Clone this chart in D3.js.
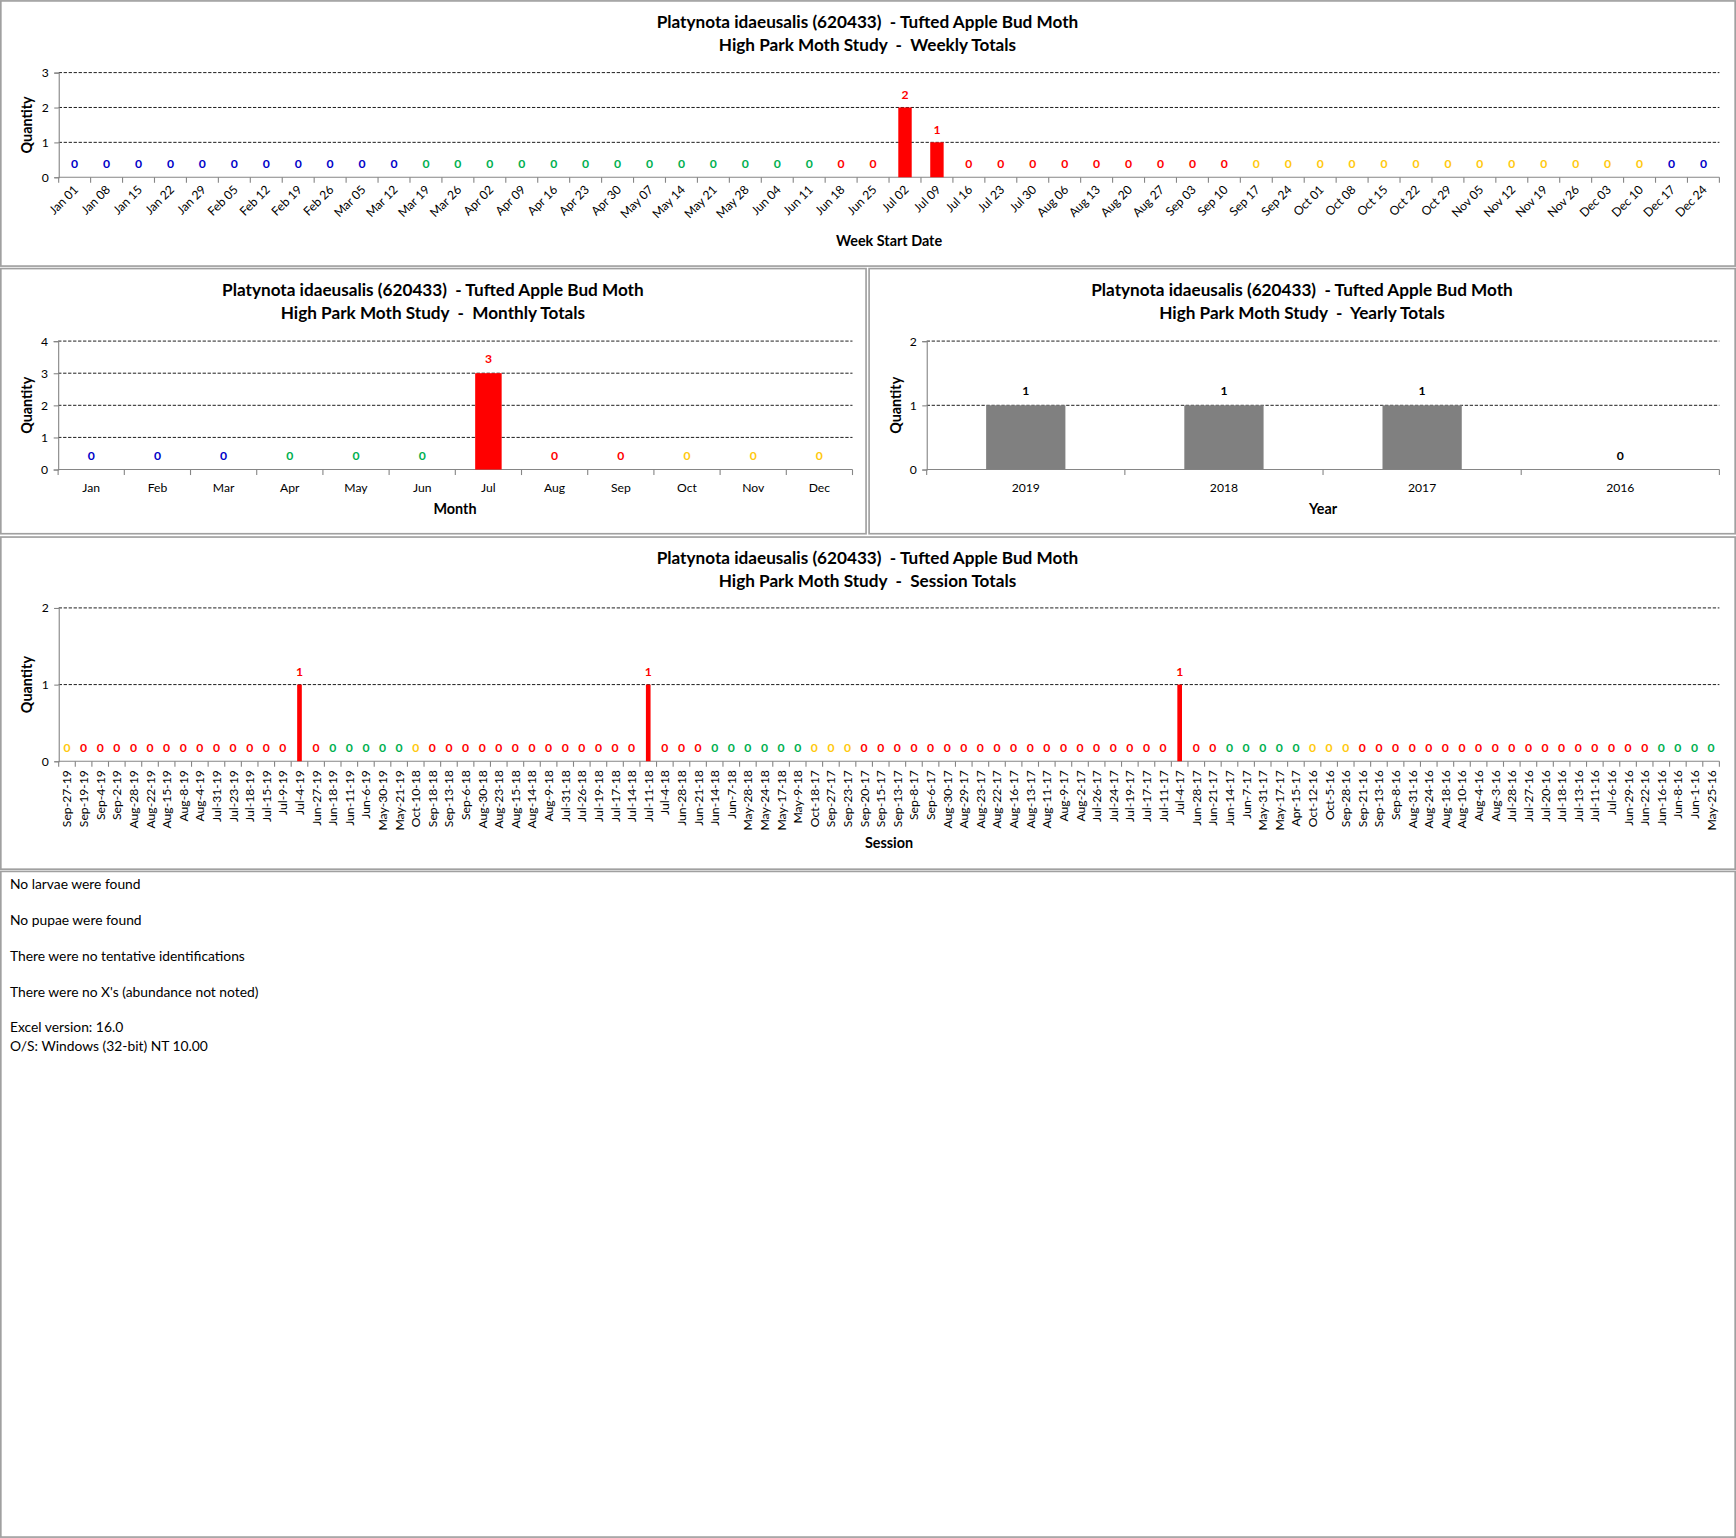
<!DOCTYPE html>
<html>
<head>
<meta charset="utf-8">
<script src="https://cdn.jsdelivr.net/npm/d3@7"></script>
<style>
  body { margin: 0; background: #fff; }
  text { font-family: Lato, "Open Sans", sans-serif; white-space: pre; }
</style>
</head>
<body>
<div id="page"></div>
<script>
// Data
const titleLine1 = "Platynota idaeusalis (620433)  - Tufted Apple Bud Moth";

const weekLabels = ["Jan 01","Jan 08","Jan 15","Jan 22","Jan 29","Feb 05","Feb 12","Feb 19","Feb 26",
  "Mar 05","Mar 12","Mar 19","Mar 26","Apr 02","Apr 09","Apr 16","Apr 23","Apr 30","May 07","May 14",
  "May 21","May 28","Jun 04","Jun 11","Jun 18","Jun 25","Jul 02","Jul 09","Jul 16","Jul 23","Jul 30",
  "Aug 06","Aug 13","Aug 20","Aug 27","Sep 03","Sep 10","Sep 17","Sep 24","Oct 01","Oct 08","Oct 15",
  "Oct 22","Oct 29","Nov 05","Nov 12","Nov 19","Nov 26","Dec 03","Dec 10","Dec 17","Dec 24"];
const weekValues = [0,0,0,0,0,0,0,0,0,0,0,0,0,0,0,0,0,0,0,0,0,0,0,0,0,0,2,1,0,0,0,0,0,0,0,0,0,0,0,0,0,0,0,0,0,0,0,0,0,0,0,0];
const weekSeasons = "BBBBBBBBBBBGGGGGGGGGGGGGRRRRRRRRRRRRRYYYYYYYYYYYYYBB";

const monthLabels = ["Jan","Feb","Mar","Apr","May","Jun","Jul","Aug","Sep","Oct","Nov","Dec"];
const monthValues = [0,0,0,0,0,0,3,0,0,0,0,0];
const monthSeasons = "BBBGGGRRRYYY";

const yearLabels = ["2019","2018","2017","2016"];
const yearValues = [1,1,1,0];

const sessionLabels = [
  "Sep-27-19","Sep-19-19","Sep-4-19","Sep-2-19","Aug-28-19","Aug-22-19","Aug-15-19","Aug-8-19","Aug-4-19",
  "Jul-31-19","Jul-23-19","Jul-18-19","Jul-15-19","Jul-9-19","Jul-4-19","Jun-27-19","Jun-18-19","Jun-11-19",
  "Jun-6-19","May-30-19","May-21-19",
  "Oct-10-18","Sep-18-18","Sep-13-18","Sep-6-18","Aug-30-18","Aug-23-18","Aug-15-18","Aug-14-18","Aug-9-18",
  "Jul-31-18","Jul-26-18","Jul-19-18","Jul-17-18","Jul-14-18","Jul-11-18","Jul-4-18","Jun-28-18","Jun-21-18",
  "Jun-14-18","Jun-7-18","May-28-18","May-24-18","May-17-18","May-9-18",
  "Oct-18-17","Sep-27-17","Sep-23-17","Sep-20-17","Sep-15-17","Sep-13-17","Sep-8-17","Sep-6-17","Aug-30-17",
  "Aug-29-17","Aug-23-17","Aug-22-17","Aug-16-17","Aug-13-17","Aug-11-17","Aug-9-17","Aug-2-17","Jul-26-17",
  "Jul-24-17","Jul-19-17","Jul-17-17","Jul-11-17","Jul-4-17","Jun-28-17","Jun-21-17","Jun-14-17","Jun-7-17",
  "May-31-17","May-17-17","Apr-15-17",
  "Oct-12-16","Oct-5-16","Sep-28-16","Sep-21-16","Sep-13-16","Sep-8-16","Aug-31-16","Aug-24-16","Aug-18-16",
  "Aug-10-16","Aug-4-16","Aug-3-16","Jul-28-16","Jul-27-16","Jul-20-16","Jul-18-16","Jul-13-16","Jul-11-16",
  "Jul-6-16","Jun-29-16","Jun-22-16","Jun-16-16","Jun-8-16","Jun-1-16","May-25-16"];
const sessionValues = [
  0,0,0,0,0,0,0,0,0,0,0,0,0,0,1,0,0,0,0,0,0,
  0,0,0,0,0,0,0,0,0,0,0,0,0,0,1,0,0,0,0,0,0,0,0,0,
  0,0,0,0,0,0,0,0,0,0,0,0,0,0,0,0,0,0,0,0,0,0,1,0,0,0,0,0,0,0,
  0,0,0,0,0,0,0,0,0,0,0,0,0,0,0,0,0,0,0,0,0,0,0,0,0];
const sessionSeasons =
  "YRRRRRRRRRRRRRRRGGGGG" +
  "YRRRRRRRRRRRRRRRRRGGGGGG" +
  "YYYRRRRRRRRRRRRRRRRRRRRRRGGGGG" +
  "YYYRRRRRRRRRRRRRRRRRRGGGG";

const notes = ["No larvae were found", "No pupae were found", "There were no tentative identifications",
  "There were no X's (abundance not noted)"];
const versionLines = ["Excel version: 16.0", "O/S: Windows (32-bit) NT 10.00"];

const seasonColor = { B: "#0000c8", G: "#00b050", R: "#ff0000", Y: "#ffc90e" };

// Page: drawn in a 1568x1389 frame scaled to the window
const svg = d3.select("#page").append("svg")
  .attr("width", 1736).attr("height", 1538)
  .attr("viewBox", "0 0 1568 1389");

function panel(x, y, w, h) {
  svg.append("rect").attr("x", x).attr("y", y).attr("width", w).attr("height", h)
    .attr("fill", "#fff").attr("stroke", "#a0a0a0").attr("stroke-width", 1.5);
}

function barChart(cfg) {
  const g = svg.append("g");
  const x = d3.scaleBand().domain(cfg.labels).range([cfg.left, cfg.right]).paddingInner(cfg.pad).paddingOuter(cfg.pad / 2);
  const y = d3.scaleLinear().domain([0, cfg.yMax]).range([cfg.bottom, cfg.top]);
  const data = cfg.labels.map((l, i) => ({ label: l, value: cfg.values[i], season: cfg.seasons ? cfg.seasons[i] : null }));
  const fill = d => cfg.seasons ? seasonColor[d.season] : "#808080";
  const labelFill = d => cfg.seasons ? seasonColor[d.season] : "#000";

  // titles
  const cx = (cfg.panelX0 + cfg.panelX1) / 2;
  g.append("text").attr("x", cx).attr("y", cfg.titleY).attr("text-anchor", "middle")
    .attr("font-weight", "bold").attr("font-size", 15.5).text(titleLine1);
  g.append("text").attr("x", cx).attr("y", cfg.titleY + 21).attr("text-anchor", "middle")
    .attr("font-weight", "bold").attr("font-size", 15.5).text(cfg.title2);

  // gridlines
  const ticks = d3.range(1, cfg.yMax + 1);
  g.selectAll(".grid").data(ticks).enter().append("line")
    .attr("x1", cfg.left).attr("x2", cfg.right)
    .attr("y1", d => y(d)).attr("y2", d => y(d))
    .attr("stroke", "#000").attr("stroke-width", 0.8).attr("stroke-dasharray", "3,1.5");

  // y axis
  const ya = g.append("g").attr("transform", `translate(${cfg.left},0)`)
    .call(d3.axisLeft(y).tickValues(d3.range(0, cfg.yMax + 1)).tickFormat(d3.format("d")).tickSize(4).tickPadding(5));
  ya.select(".domain").attr("stroke", "#868686");
  ya.selectAll(".tick line").attr("stroke", "#868686");
  ya.selectAll(".tick text").attr("font-size", 11).attr("fill", "#000").style("font-family", "Lato, sans-serif");

  // x axis line and ticks between categories
  g.append("line").attr("x1", cfg.left).attr("x2", cfg.right).attr("y1", cfg.bottom).attr("y2", cfg.bottom)
    .attr("stroke", "#868686");
  const step = x.step();
  const bounds = d3.range(cfg.labels.length + 1).map(i => cfg.left + i * step);
  g.selectAll(".xt").data(bounds).enter().append("line")
    .attr("x1", d => d).attr("x2", d => d).attr("y1", cfg.bottom).attr("y2", cfg.bottom + 5)
    .attr("stroke", "#868686");

  // bars
  g.selectAll(".bar").data(data.filter(d => d.value > 0)).enter().append("rect")
    .attr("x", d => x(d.label)).attr("width", x.bandwidth())
    .attr("y", d => y(d.value)).attr("height", d => y(0) - y(d.value))
    .attr("fill", fill);

  // value labels
  g.selectAll(".val").data(data).enter().append("text")
    .attr("x", d => x(d.label) + x.bandwidth() / 2)
    .attr("y", d => y(d.value) - cfg.labelOff)
    .attr("text-anchor", "middle").attr("dominant-baseline", "central")
    .attr("font-size", 11).attr("font-weight", "bold").attr("fill", labelFill)
    .text(d => d.value);

  // category labels
  const cl = g.selectAll(".cat").data(data).enter().append("text")
    .attr("font-size", cfg.catSize || 11).attr("fill", "#000").text(d => d.label);
  if (cfg.rotate === -45) {
    cl.attr("text-anchor", "end")
      .attr("transform", d => `translate(${x(d.label) + x.bandwidth() / 2 + 4},${cfg.bottom + 12}) rotate(-45)`);
  } else if (cfg.rotate === -90) {
    cl.attr("text-anchor", "end").attr("dominant-baseline", "central")
      .attr("transform", d => `translate(${x(d.label) + x.bandwidth() / 2},${cfg.bottom + 8}) rotate(-90)`);
  } else {
    cl.attr("text-anchor", "middle")
      .attr("x", d => x(d.label) + x.bandwidth() / 2).attr("y", cfg.bottom + 20);
  }

  // axis titles
  g.append("text").attr("x", cfg.xTitleX).attr("y", cfg.xTitleY).attr("text-anchor", "middle")
    .attr("font-weight", "bold").attr("font-size", 13).text(cfg.xTitle);
  g.append("text").attr("transform", `translate(${cfg.panelX0 + 29},${(cfg.top + cfg.bottom) / 2}) rotate(-90)`)
    .attr("text-anchor", "middle").attr("font-weight", "bold").attr("font-size", 13).text("Quantity");
}

// panels
panel(0.75, 0.75, 1566.5, 239.5);
panel(0.75, 242.5, 781.5, 239.5);
panel(785, 242.5, 782.25, 239.5);
panel(0.75, 485, 1566.5, 300);
panel(0.75, 787, 1566.5, 601.25);

barChart({
  labels: weekLabels, values: weekValues, seasons: weekSeasons, yMax: 3,
  left: 53, right: 1553, top: 65.5, bottom: 160, pad: 0.58, labelOff: 12,
  panelX0: 0, panelX1: 1567, titleY: 25, title2: "High Park Moth Study  -  Weekly Totals",
  rotate: -45, xTitle: "Week Start Date", xTitleX: 803, xTitleY: 222
});

barChart({
  labels: monthLabels, values: monthValues, seasons: monthSeasons, yMax: 4,
  left: 52.5, right: 770, top: 308, bottom: 424, pad: 0.6, labelOff: 13,
  panelX0: 0, panelX1: 782, titleY: 267, title2: "High Park Moth Study  -  Monthly Totals",
  xTitle: "Month", xTitleX: 411, xTitleY: 464
});

barChart({
  labels: yearLabels, values: yearValues, seasons: null, yMax: 2,
  left: 837, right: 1553, top: 308, bottom: 424, pad: 0.6, labelOff: 13,
  panelX0: 785, panelX1: 1567, titleY: 267, title2: "High Park Moth Study  -  Yearly Totals",
  xTitle: "Year", xTitleX: 1195, xTitleY: 464
});

barChart({
  labels: sessionLabels, values: sessionValues, seasons: sessionSeasons, yMax: 2,
  left: 53, right: 1553, top: 549, bottom: 687.5, pad: 0.72, labelOff: 12,
  panelX0: 0, panelX1: 1567, titleY: 509, title2: "High Park Moth Study  -  Session Totals",
  rotate: -90, xTitle: "Session", xTitleX: 803, xTitleY: 766
});

// notes block
svg.selectAll(".note").data(notes).enter().append("text")
  .attr("x", 9).attr("y", (d, i) => 803 + i * 32.5)
  .attr("font-size", 12.5).attr("fill", "#000").text(d => d);
svg.selectAll(".ver").data(versionLines).enter().append("text")
  .attr("x", 9).attr("y", (d, i) => 932 + i * 17)
  .attr("font-size", 12.5).attr("fill", "#000").text(d => d);
</script>
</body>
</html>
